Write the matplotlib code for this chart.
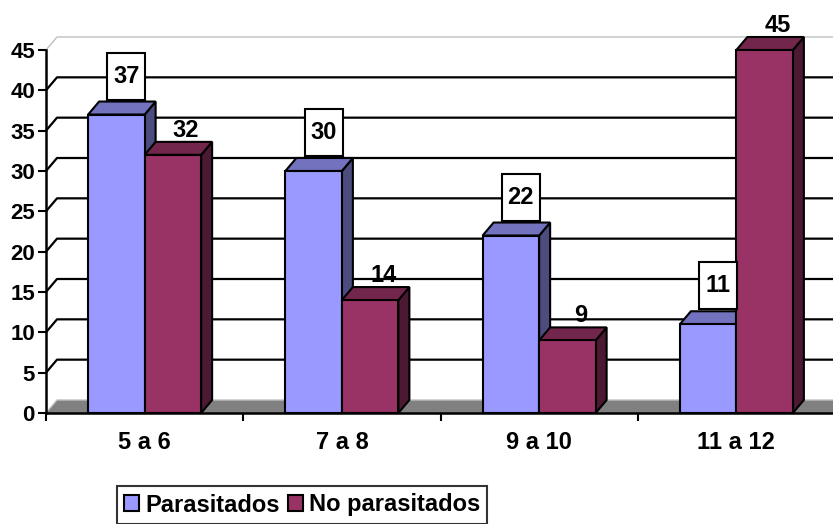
import matplotlib
matplotlib.use("Agg")
import matplotlib.pyplot as plt
from matplotlib.patches import Polygon, Rectangle, Patch

plt.rcParams['font.family'] = ['Liberation Sans', 'DejaVu Sans']
plt.rcParams['font.weight'] = 'bold'

categories = ["5 a 6", "7 a 8", "9 a 10", "11 a 12"]
parasitados = [37, 30, 22, 11]
no_parasitados = [32, 14, 9, 45]
series_names = ["Parasitados", "No parasitados"]
y_ticks = [0, 5, 10, 15, 20, 25, 30, 35, 40, 45]

W, H, DPI = 833, 524, 100
fig = plt.figure(figsize=(W / DPI, H / DPI), dpi=DPI)

# axes box in pixels (front plane)
x0_px, x1_px = 46, 835
y0_px, y1_px = 413, 50
ax = fig.add_axes([x0_px / W, (H - y0_px) / H, (x1_px - x0_px) / W, (y0_px - y1_px) / H])
n = len(categories)
ax.set_xlim(0, n)
ax.set_ylim(0, 45)

px_x = n / (x1_px - x0_px)      # data units per pixel (x)
px_y = 45 / (y0_px - y1_px)     # data units per pixel (y)
DX, DY = 11 * px_x, 13 * px_y   # depth offset of the back wall
BW = 56.5 * px_x                # bar width

# back wall gridlines
for v in y_ticks[1:]:
    col = '#C0C0C0' if v == 45 else 'black'
    lw = 1.0 if v == 45 else 1.6
    ax.plot([0, DX, n + 2 * DX], [v, v + DY, v + DY], color=col, lw=lw,
            clip_on=False, zorder=1, solid_capstyle='butt')

# floor
ax.add_patch(Polygon([(0, 0), (n + DX, 0), (n + 2 * DX, DY), (DX, DY)],
                     closed=True, fc='#808080', ec='none', zorder=2, clip_on=False))
ax.plot([0, DX, n + 2 * DX], [0, DY, DY], color='#C0C0C0', lw=1.0,
        clip_on=False, zorder=2)


def shade(hexcol, f):
    r, g, b = (int(hexcol[i:i + 2], 16) for i in (1, 3, 5))
    return '#%02x%02x%02x' % (int(r * f), int(g * f), int(b * f))


def bar3d(x, v, color):
    kw = dict(ec='black', lw=1.5, zorder=3, clip_on=False, joinstyle='miter')
    ax.add_patch(Polygon([(x + BW, 0), (x + BW + DX, DY), (x + BW + DX, v + DY), (x + BW, v)],
                         closed=True, fc=shade(color, 0.5), **kw))
    ax.add_patch(Polygon([(x, v), (x + BW, v), (x + BW + DX, v + DY), (x + DX, v + DY)],
                         closed=True, fc=shade(color, 0.75), **kw))
    ax.add_patch(Rectangle((x, 0), BW, v, fc=color, **kw))


colors = ['#9999FF', '#993366']
for i, (p, q) in enumerate(zip(parasitados, no_parasitados)):
    c = i + 0.5
    bar3d(c - BW, p, colors[0])
    bar3d(c, q, colors[1])

    # boxed label for Parasitados
    bw_box, bh_box = 38 * px_x, 47 * px_y
    cx = c - BW / 2 + 10 * px_x
    yb = p + DY + 2 * px_y
    ax.add_patch(Rectangle((cx - bw_box / 2, yb), bw_box, bh_box, fc='white', ec='black',
                           lw=1.5, zorder=4, clip_on=False))
    ax.text(cx, yb + bh_box / 2, str(p), ha='center', va='center', fontsize=17,
            fontweight='bold', zorder=5, clip_on=False)

    # plain label for No parasitados
    ax.text(c + BW / 2 + 13 * px_x, q + DY + 5 * px_y, str(q), ha='center', va='baseline',
            fontsize=17, fontweight='bold', zorder=5, clip_on=False)

# axes styling
for s in ('top', 'right'):
    ax.spines[s].set_visible(False)
for s in ('left', 'bottom'):
    ax.spines[s].set_linewidth(1.8)
    ax.spines[s].set_zorder(6)
ax.set_yticks(y_ticks)
ax.set_yticklabels([str(t) for t in y_ticks], fontsize=16, fontweight='bold')
ax.tick_params(axis='y', length=6, width=1.5, pad=2)
ax.set_xticks(range(n))
ax.set_xticklabels([])
ax.set_xticks([i + 0.5 for i in range(n)], minor=True)
ax.set_xticklabels(categories, minor=True, fontsize=17, fontweight='bold')
ax.tick_params(axis='x', which='major', length=6, width=1.5, direction='out')
ax.tick_params(axis='x', which='minor', length=0, pad=13)
ax.patch.set_visible(False)

# legend
handles = [Patch(fc=colors[0], ec='black', lw=1.5), Patch(fc=colors[1], ec='black', lw=1.5)]
leg = fig.legend(handles, series_names, loc='center', bbox_to_anchor=(302 / W, 1 - 505 / H),
                 ncol=2, frameon=True, fancybox=False, handlelength=0.65, handleheight=0.65,
                 handletextpad=0.25, columnspacing=0.35, borderpad=0.3, borderaxespad=0,
                 prop={'weight': 'bold', 'size': 17})
leg.get_frame().set_edgecolor('black')
leg.get_frame().set_linewidth(1.5)

fig.savefig("out.png", dpi=DPI)
